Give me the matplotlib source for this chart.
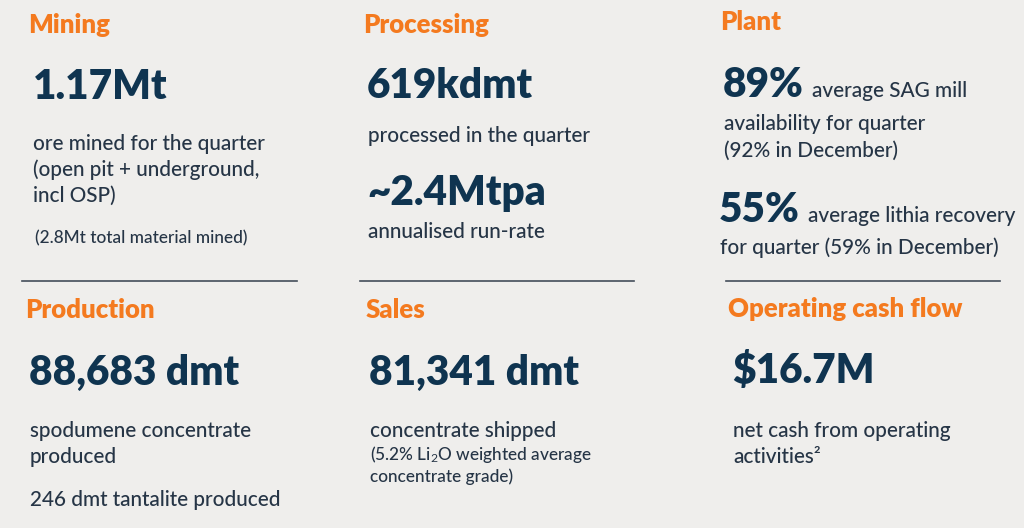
import matplotlib
matplotlib.use("Agg")
import matplotlib.pyplot as plt

FONT = ["Lato", "DejaVu Sans"]
plt.rcParams["font.family"] = FONT
plt.rcParams["mathtext.fontset"] = "custom"
plt.rcParams["mathtext.rm"] = "Lato"
plt.rcParams["mathtext.it"] = "Lato:italic"

BG = "#efeeec"
ORANGE = "#f47a1f"
NAVY = "#0f3450"
BODY = "#263546"
LINE = "#444e5a"

# panel texts
titles = ["Mining", "Processing", "Plant", "Production", "Sales", "Operating cash flow"]
figures = ["1.17Mt", "619kdmt", "89%", "88,683 dmt", "81,341 dmt", "$16.7M"]
mining_notes = ["ore mined for the quarter", "(open pit + underground,", "incl OSP)"]
mining_small = "(2.8Mt total material mined)"
processing_note = "processed in the quarter"
runrate = "~2.4Mtpa"
runrate_note = "annualised run-rate"
plant_first = ["average SAG mill", "availability for quarter", "(92% in December)"]
plant_second_fig = "55%"
plant_second = ["average lithia recovery", "for quarter (59% in December)"]
production_notes = ["spodumene concentrate", "produced"]
production_extra = "246 dmt tantalite produced"
sales_note = "concentrate shipped"
sales_small = ["(5.2% Li$_2$O weighted average", "concentrate grade)"]
cash_notes = ["net cash from operating", "activities\u00b2"]

W, H = 1024, 528
fig = plt.figure(figsize=(W / 100, H / 100), dpi=100, facecolor=BG)
ax = fig.add_axes([0, 0, 1, 1])
ax.set_xlim(0, W)
ax.set_ylim(H, 0)
ax.axis("off")
renderer = fig.canvas.get_renderer()


def fit(sample, weight, target):
    t = ax.text(0, 0, sample, fontsize=20, fontweight=weight)
    w = t.get_window_extent(renderer).width
    t.remove()
    return 20 * target / w


TITLE = fit("Operating cash flow", "heavy", 234)
BIG = fit("88,683 dmt", "heavy", 210)
NOTE = fit("ore mined for the quarter", "medium", 232)
SMALL = fit("(2.8Mt total material mined)", "medium", 213)


def put(x, y, s, size, color, weight="medium"):
    ax.text(x, y, s, fontsize=size, color=color, fontweight=weight,
            va="baseline", ha="left")


def lines(x, y0, step, items, size, color=BODY):
    for i, s in enumerate(items):
        put(x, y0 + i * step, s, size, color)


# top row
put(28, 33, titles[0], TITLE, ORANGE, "heavy")
put(33, 99, figures[0], BIG, NAVY, "heavy")
lines(33, 150, 26, mining_notes, NOTE)
put(35, 243, mining_small, SMALL, BODY)

put(363, 33, titles[1], TITLE, ORANGE, "heavy")
put(367, 98, figures[1], BIG, NAVY, "heavy")
put(368, 142, processing_note, NOTE, BODY)
put(367, 205, runrate, BIG, NAVY, "heavy")
put(368, 238, runrate_note, NOTE, BODY)

put(720, 30, titles[2], TITLE, ORANGE, "heavy")
put(723, 97, figures[2], BIG, NAVY, "heavy")
put(812, 97, plant_first[0], NOTE, BODY)
lines(724, 130, 27, plant_first[1:], NOTE)
put(719, 222, plant_second_fig, BIG, NAVY, "heavy")
put(808, 222, plant_second[0], NOTE, BODY)
put(720, 254, plant_second[1], NOTE, BODY)

# dividers
for x0, x1 in [(22, 297), (360, 634), (726, 1000)]:
    ax.plot([x0, x1], [281, 281], color=LINE, lw=1.2)

# bottom row
put(25, 318, titles[3], TITLE, ORANGE, "heavy")
put(29, 385, figures[3], BIG, NAVY, "heavy")
lines(30, 437, 26, production_notes, NOTE)
put(30, 506, production_extra, NOTE, BODY)

put(366, 318, titles[4], TITLE, ORANGE, "heavy")
put(369, 385, figures[4], BIG, NAVY, "heavy")
put(370, 437, sales_note, NOTE, BODY)
lines(370, 460, 22, sales_small, SMALL)

put(728, 317, titles[5], TITLE, ORANGE, "heavy")
put(732, 383, figures[5], BIG, NAVY, "heavy")
lines(733, 437, 26, cash_notes, NOTE)

fig.savefig("out.png", dpi=100, facecolor=BG)
